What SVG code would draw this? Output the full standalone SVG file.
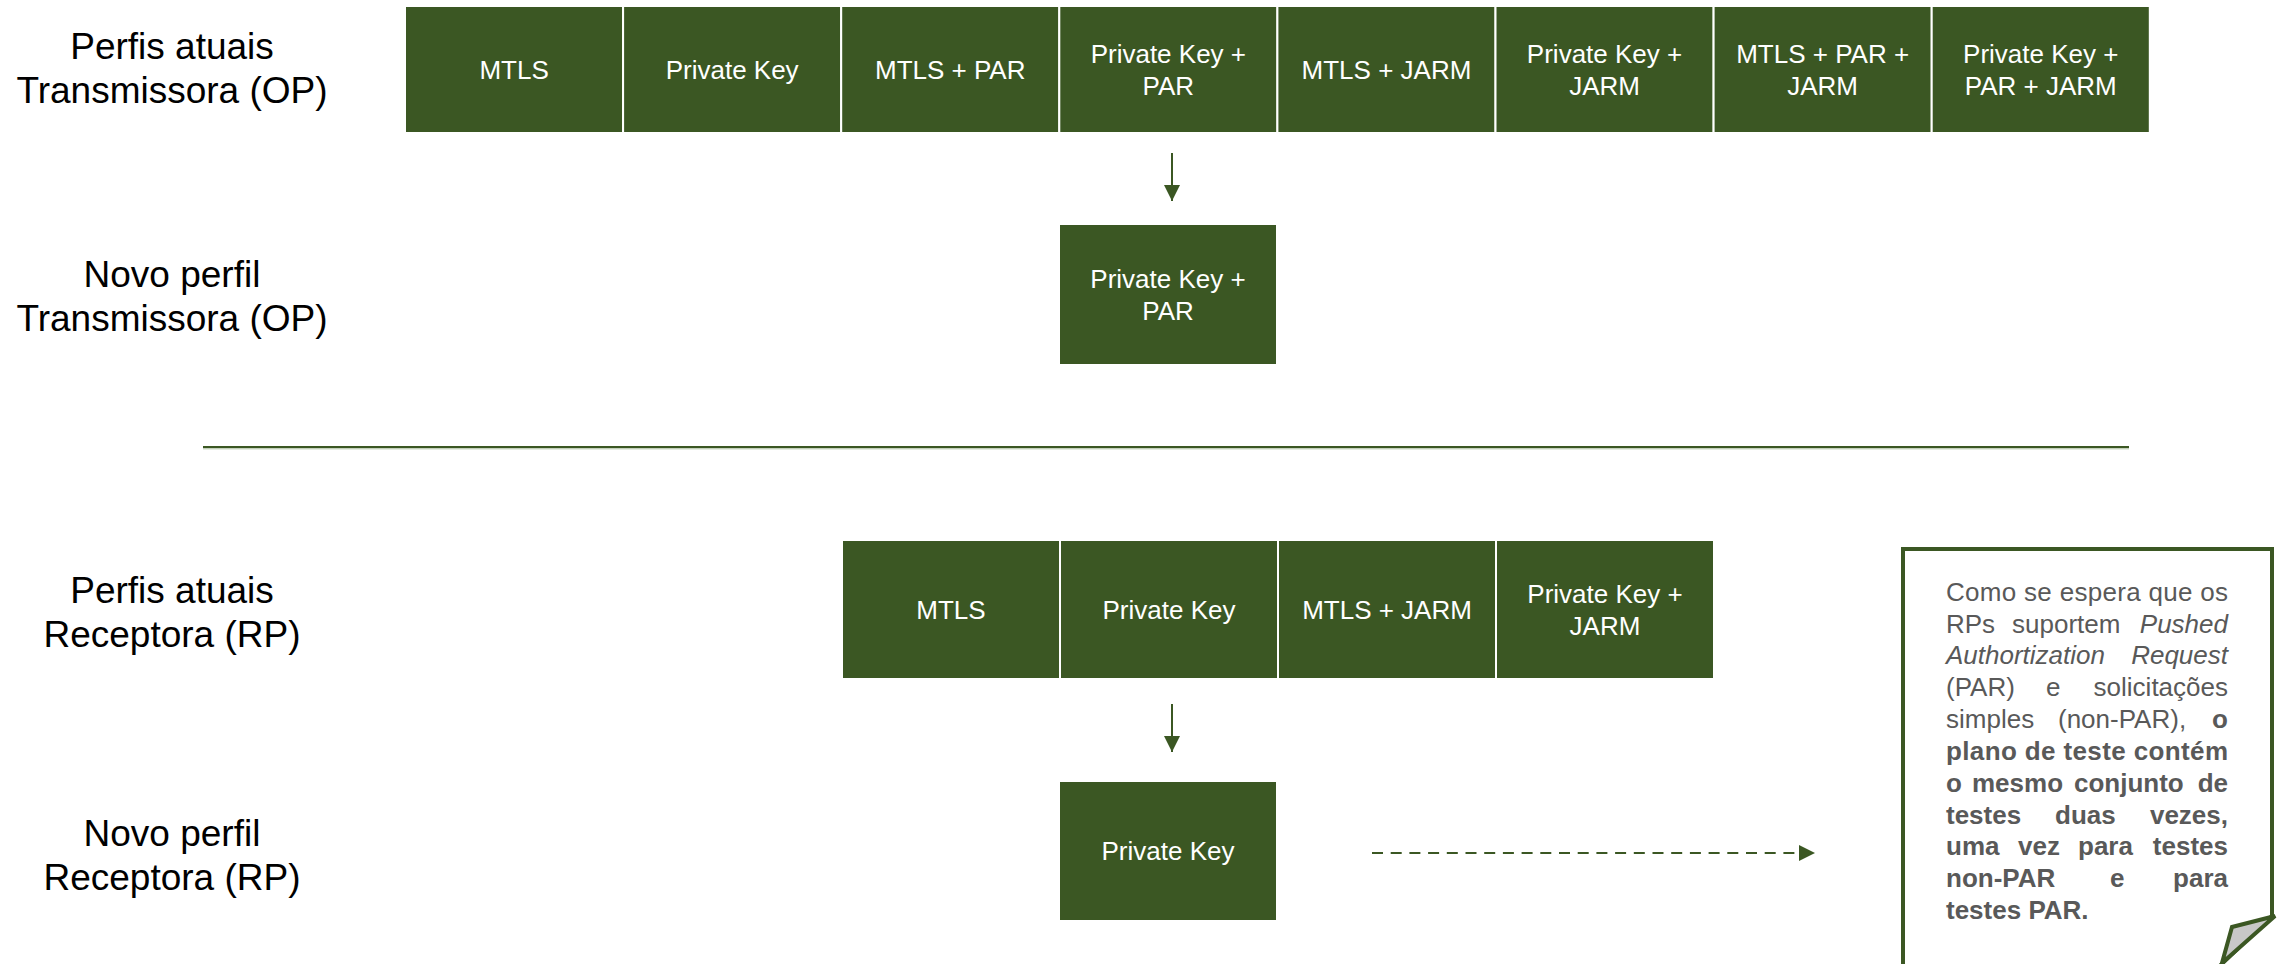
<svg xmlns="http://www.w3.org/2000/svg" width="2285" height="964" viewBox="0 0 2285 964">
<defs>
<style>
.box{fill:#3B5723;stroke:#ffffff;stroke-width:2}
.bt{font-family:"Liberation Sans",Arial,sans-serif;font-size:26px;fill:#ffffff;text-anchor:middle}
.lbl{font-family:"Liberation Sans",Arial,sans-serif;font-size:37px;fill:#000000;text-anchor:middle}
.conn{stroke:#3B5723;stroke-width:2;fill:none}
.note{font-family:"Liberation Sans",Arial,sans-serif;font-size:26px;fill:#595959}
.b{font-weight:bold}
.i{font-style:italic}
.e{text-anchor:end}
</style>
<marker id="ah" viewBox="0 0 16 16" refX="16" refY="8" markerWidth="16" markerHeight="16" markerUnits="userSpaceOnUse" orient="auto">
<path d="M0,0 L16,8 L0,16 Z" fill="#3B5723"/>
</marker>
</defs>
<rect width="2285" height="964" fill="#ffffff"/>

<g id="labels">
<text class="lbl" x="172" y="59">Perfis atuais</text>
<text class="lbl" x="172" y="103">Transmissora (OP)</text>
<text class="lbl" x="172" y="287">Novo perfil</text>
<text class="lbl" x="172" y="331">Transmissora (OP)</text>
<text class="lbl" x="172" y="603">Perfis atuais</text>
<text class="lbl" x="172" y="647">Receptora (RP)</text>
<text class="lbl" x="172" y="846">Novo perfil</text>
<text class="lbl" x="172" y="890">Receptora (RP)</text>
</g>

<g id="op-current">
<g id="op1"><rect class="box" x="405" y="6" width="218.1" height="127"/><text class="bt" x="514.05" y="79">MTLS</text></g>
<g id="op2"><rect class="box" x="623.1" y="6" width="218.1" height="127"/><text class="bt" x="732.15" y="79">Private Key</text></g>
<g id="op3"><rect class="box" x="841.2" y="6" width="218.1" height="127"/><text class="bt" x="950.25" y="79">MTLS + PAR</text></g>
<g id="op4"><rect class="box" x="1059.3" y="6" width="218.1" height="127"/><text class="bt" x="1168.35" y="63">Private Key +</text><text class="bt" x="1168.35" y="95">PAR</text></g>
<g id="op5"><rect class="box" x="1277.4" y="6" width="218.1" height="127"/><text class="bt" x="1386.45" y="79">MTLS + JARM</text></g>
<g id="op6"><rect class="box" x="1495.5" y="6" width="218.1" height="127"/><text class="bt" x="1604.55" y="63">Private Key +</text><text class="bt" x="1604.55" y="95">JARM</text></g>
<g id="op7"><rect class="box" x="1713.6" y="6" width="218.1" height="127"/><text class="bt" x="1822.65" y="63">MTLS + PAR +</text><text class="bt" x="1822.65" y="95">JARM</text></g>
<g id="op8"><rect class="box" x="1931.7" y="6" width="218.1" height="127"/><text class="bt" x="2040.75" y="63">Private Key +</text><text class="bt" x="2040.75" y="95">PAR + JARM</text></g>
</g>

<g id="op-new"><rect class="box" x="1059" y="224" width="218" height="141"/><text class="bt" x="1168" y="288">Private Key +</text><text class="bt" x="1168" y="320">PAR</text></g>

<g id="divider">
<line x1="203" y1="447" x2="2129" y2="447" stroke="#3B5723" stroke-width="2"/>
<line x1="203" y1="448.8" x2="2129" y2="448.8" stroke="#a9bd9c" stroke-width="1"/>
</g>

<g id="rp-current">
<g id="rp1"><rect class="box" x="842" y="540" width="218" height="139"/><text class="bt" x="951" y="619">MTLS</text></g>
<g id="rp2"><rect class="box" x="1060" y="540" width="218" height="139"/><text class="bt" x="1169" y="619">Private Key</text></g>
<g id="rp3"><rect class="box" x="1278" y="540" width="218" height="139"/><text class="bt" x="1387" y="619">MTLS + JARM</text></g>
<g id="rp4"><rect class="box" x="1496" y="540" width="218" height="139"/><text class="bt" x="1605" y="603">Private Key +</text><text class="bt" x="1605" y="635">JARM</text></g>
</g>

<g id="rp-new"><rect class="box" x="1059" y="781" width="218" height="140"/><text class="bt" x="1168" y="860">Private Key</text></g>

<g id="connectors">
<line class="conn" x1="1172" y1="153" x2="1172" y2="201" marker-end="url(#ah)"/>
<line class="conn" x1="1172" y1="704" x2="1172" y2="752" marker-end="url(#ah)"/>
<line class="conn" x1="1372" y1="853" x2="1815" y2="853" stroke-width="3" stroke-dasharray="11 7.7" marker-end="url(#ah)"/>
</g>

<g id="note">
<path d="M1903,549 L2272,549 L2272,916 L2205,980 L1903,980 Z" fill="#ffffff" stroke="#3B5723" stroke-width="4"/>
<path d="M2275,916 L2232,927 L2222,963 Z" fill="#c8c8c8" stroke="#3B5723" stroke-width="4" stroke-linejoin="miter"/>
<text class="note" x="1946" y="600.7" textLength="282" lengthAdjust="spacing">Como se espera que os</text>
<text class="note" x="1946" y="632.5">RPs</text><text class="note" x="2012" y="632.5">suportem</text><text class="note i e" x="2228" y="632.5">Pushed</text>
<text class="note i" x="1946" y="664.4">Authortization</text><text class="note i e" x="2228" y="664.4">Request</text>
<text class="note" x="1946" y="696.2">(PAR)</text><text class="note" x="2046" y="696.2">e</text><text class="note e" x="2228" y="696.2">solicitações</text>
<text class="note" x="1946" y="728">simples</text><text class="note" x="2058" y="728">(non-PAR),</text><text class="note b e" x="2228" y="728">o</text>
<text class="note b" x="1946" y="759.9" textLength="282" lengthAdjust="spacing">plano de teste contém</text>
<text class="note b" x="1946" y="791.7">o</text><text class="note b" x="1972" y="791.7">mesmo</text><text class="note b" x="2074" y="791.7">conjunto</text><text class="note b e" x="2228" y="791.7">de</text>
<text class="note b" x="1946" y="823.5">testes</text><text class="note b" x="2055" y="823.5">duas</text><text class="note b e" x="2228" y="823.5">vezes,</text>
<text class="note b" x="1946" y="855.3">uma</text><text class="note b" x="2018" y="855.3">vez</text><text class="note b" x="2078" y="855.3">para</text><text class="note b e" x="2228" y="855.3">testes</text>
<text class="note b" x="1946" y="887.2">non-PAR</text><text class="note b" x="2110" y="887.2">e</text><text class="note b e" x="2228" y="887.2">para</text>
<text class="note b" x="1946" y="919">testes PAR.</text>
</g>
</svg>
